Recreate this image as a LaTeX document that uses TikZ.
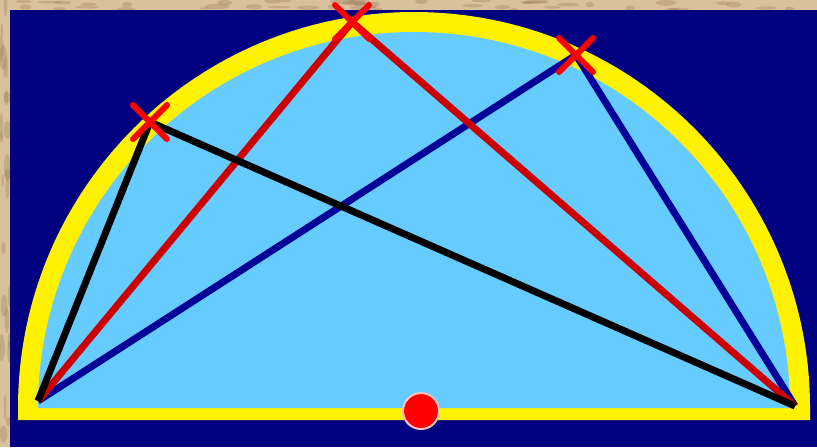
\documentclass[tikz,border=0pt]{standalone}
\usetikzlibrary{shapes.misc}
\definecolor{stone}{HTML}{D9C19D}
\definecolor{stonedark}{HTML}{9C7F5C}
\definecolor{navy}{HTML}{000080}
\definecolor{sky}{HTML}{66CCFF}
\definecolor{lineblue}{HTML}{000099}
\definecolor{linered}{HTML}{CC0000}
\tikzset{
  chord/.style={line width=3.5pt},
  xmark/.style={cross out,draw=red,line width=3pt,line cap=round,minimum size=14pt,inner sep=0pt},
  dot/.style={circle,fill=red,draw=red!25,line width=1pt,minimum size=18pt,inner sep=0pt}
}
\begin{document}
\begin{tikzpicture}[x=0.5pt,y=0.5pt,yscale=-1]
   \useasboundingbox (0,0) rectangle (817,447);
   %frame
   \fill[stone] (0,0) rectangle (817,447);
   \pgfmathsetseed{7}
   \begin{scope}
   \clip (0,0) rectangle (817,447);
   \foreach \i in {1,...,45}
      \fill[stonedark,opacity=0.35] (rnd*817,rnd*10) ellipse ({4+rnd*10} and {1+rnd*2});
   \foreach \i in {1,...,25}
      \fill[stonedark,opacity=0.35] (rnd*10,rnd*447) ellipse ({1+rnd*3} and {4+rnd*10});
   \end{scope}
   \fill[navy] (10,10) rectangle (817,447);
   %half disc
   \fill[yellow] (18,420) -- (18,408) arc[start angle=180,end angle=360,radius=396] -- (810,420) -- cycle;
   \fill[sky] (38,408) arc[start angle=180,end angle=360,radius=376] -- cycle;
   %points
   \coordinate (L) at (38,401);
   \coordinate (R) at (795,406);
   \coordinate (P1) at (150,122);
   \coordinate (P2) at (352,22);
   \coordinate (P3) at (576,55);
   %chords
   \draw[chord,lineblue] (L) -- (P3) -- (R);
   \draw[chord,linered] (L) -- (P2) -- (R);
   \draw[chord,black] (L) -- (P1) -- (R);
   %marks
   \node[xmark] (x1) at (P1) {};
   \node[xmark] (x2) at (P2) {};
   \node[xmark] (x3) at (P3) {};
   \node[dot] (mid) at (421,411) {};
  \end{tikzpicture}
\end{document}
